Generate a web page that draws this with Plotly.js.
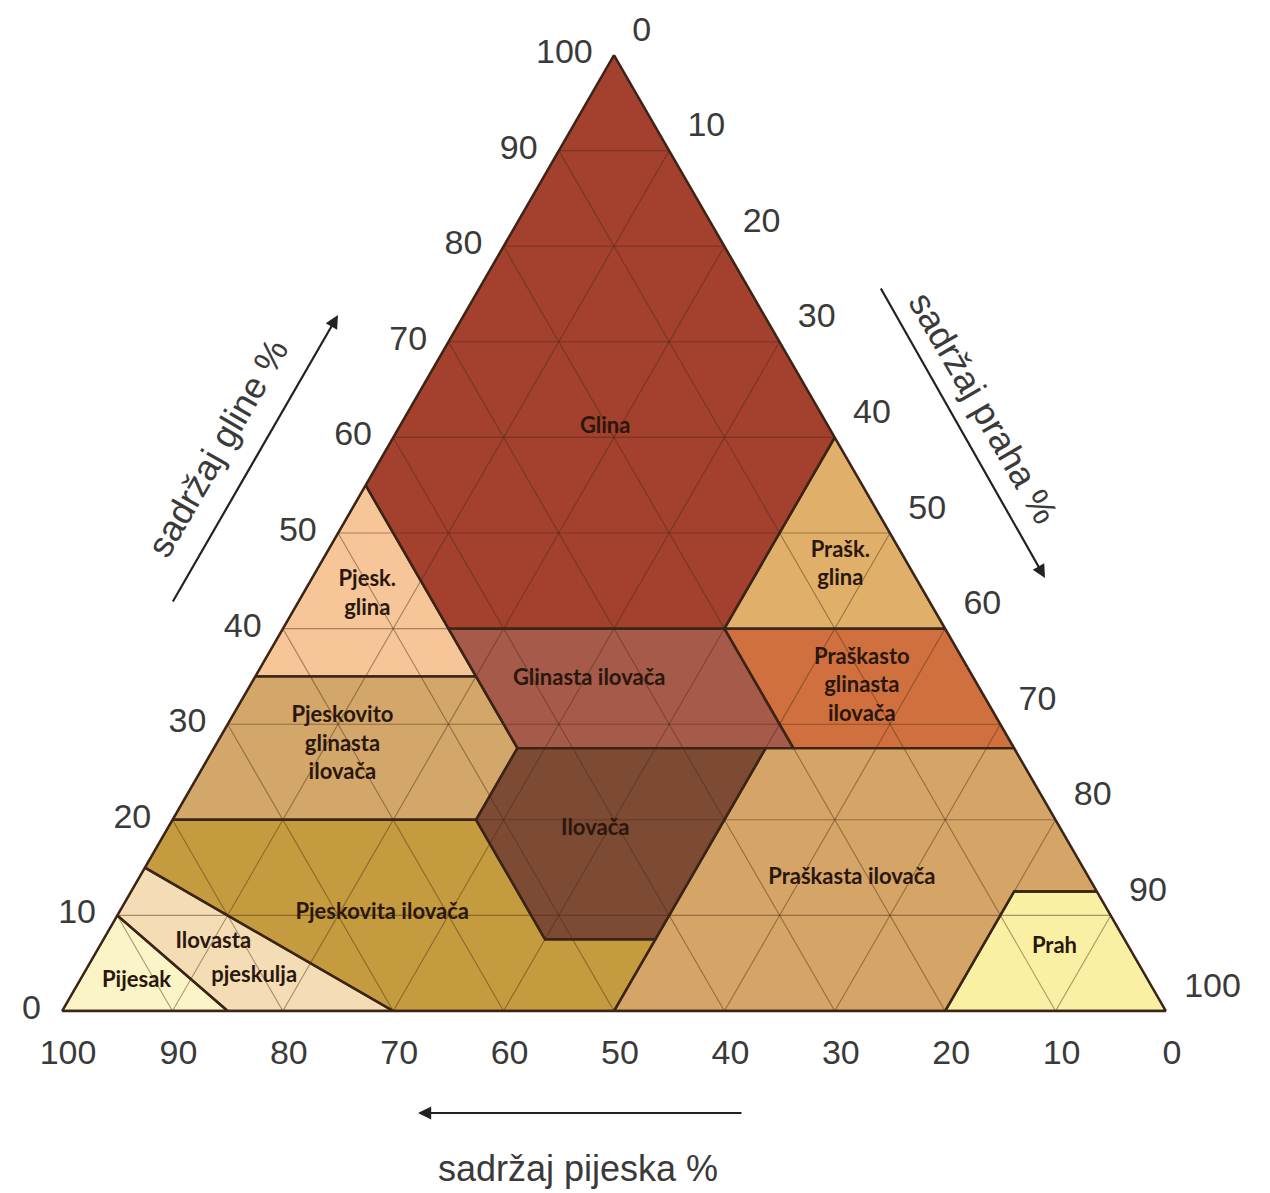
<!DOCTYPE html>
<html>
<head>
<meta charset="utf-8">
<script src="https://cdn.plot.ly/plotly-3.0.1.min.js"></script>
<style>
html,body{margin:0;padding:0;background:#ffffff;}
#chart{width:1270px;height:1193px;}
</style>
</head>
<body>
<div id="chart"></div>
<script>
// ---- DATA: soil texture classes (vertices as clay / silt / sand %) ----
const regionNames = [
  'Glina', 'Pjeskovita glina', 'Praškasta glina', 'Glinasta ilovača',
  'Praškasto glinasta ilovača', 'Pjeskovito glinasta ilovača', 'Ilovača',
  'Praškasta ilovača', 'Pjeskovita ilovača', 'Ilovasta pjeskulja', 'Pijesak', 'Prah'
];
const regionClay = [
  [100, 60, 40, 40, 55],
  [35, 55, 35],
  [60, 40, 40],
  [40, 40, 27.5, 27.5],
  [40, 40, 27.5, 27.5],
  [20, 35, 35, 27.5, 20],
  [27.5, 27.5, 7.5, 7.5, 20],
  [27.5, 27.5, 12.5, 12.5, 0, 0, 7.5],
  [20, 20, 7.5, 7.5, 0, 0, 15],
  [15, 0, 0, 10],
  [10, 0, 0],
  [12.5, 0, 0, 12.5]
];
const regionSilt = [
  [0, 40, 40, 15, 0],
  [0, 0, 20],
  [40, 60, 40],
  [15, 40, 52.5, 27.5],
  [40, 60, 72.5, 52.5],
  [0, 0, 20, 27.5, 27.5],
  [27.5, 50, 50, 40, 27.5],
  [50, 72.5, 87.5, 80, 80, 50, 50],
  [0, 27.5, 40, 50, 50, 30, 0],
  [0, 30, 15, 0],
  [0, 15, 0],
  [87.5, 100, 80, 80]
];
const regionSand = [
  [0, 0, 20, 45, 45],
  [65, 45, 45],
  [0, 0, 20],
  [45, 20, 20, 45],
  [20, 0, 0, 20],
  [80, 65, 45, 45, 52.5],
  [45, 22.5, 42.5, 52.5, 52.5],
  [22.5, 0, 0, 7.5, 20, 50, 42.5],
  [80, 52.5, 52.5, 42.5, 50, 70, 85],
  [85, 70, 85, 90],
  [90, 85, 100],
  [0, 0, 20, 7.5]
];
const regionColors = [
  '#a3402e', '#f6c698', '#e0b06b', '#a65b4a',
  '#d1703f', '#d3a66a', '#7d4a33',
  '#d4a567', '#c49b3e', '#f4dcb4', '#faf4c6', '#f9f0a4'
];

// ---- region labels ----
const labelText = [
  'Glina', 'Pjesk.<br>glina', 'Prašk.<br>glina', 'Glinasta ilovača',
  'Praškasto<br>glinasta<br>ilovača', 'Pjeskovito<br>glinasta<br>ilovača', 'Ilovača',
  'Praškasta ilovača', 'Pjeskovita ilovača', 'Ilovasta', 'pjeskulja', 'Pijesak', 'Prah'
];
const labelClay = [61.0, 43.5, 46.6, 34.7, 33.9, 27.8, 19.0, 13.9, 10.2, 7.2, 3.6, 3.1, 6.6];
const labelSilt = [18.7, 5.9, 47.2, 30.4, 55.5, 11.5, 38.8, 64.6, 23.9, 10.1, 15.6, 5.2, 86.6];
const labelSand = [20.3, 50.6, 6.2, 34.9, 10.6, 60.7, 42.2, 21.5, 65.9, 82.7, 80.8, 91.7, 6.8];

// ---- axes ----
const tickVals = [0, 10, 20, 30, 40, 50, 60, 70, 80, 90, 100];
const axisTitles = ['sadržaj gline %', 'sadržaj praha %', 'sadržaj pijeska %'];

// ---- build traces ----
const traces = [];
regionNames.forEach((name, i) => {
  traces.push({
    type: 'scatterternary',
    mode: 'lines',
    name: name,
    a: regionClay[i].concat([regionClay[i][0]]),
    b: regionSand[i].concat([regionSand[i][0]]),
    c: regionSilt[i].concat([regionSilt[i][0]]),
    fill: 'toself',
    fillcolor: regionColors[i],
    line: {color: 'rgba(0,0,0,0)', width: 0},
    hoverinfo: 'name',
    showlegend: false
  });
});

// grid lines (derived from tick values), drawn above fills
const ga = [], gb = [], gc = [];
tickVals.slice(1, -1).forEach(v => {
  ga.push(v, v, null); gb.push(100 - v, 0, null); gc.push(0, 100 - v, null);
  ga.push(0, 100 - v, null); gb.push(v, v, null); gc.push(100 - v, 0, null);
  ga.push(0, 100 - v, null); gb.push(100 - v, 0, null); gc.push(v, v, null);
});
traces.push({
  type: 'scatterternary', mode: 'lines', a: ga, b: gb, c: gc,
  line: {color: 'rgba(70,42,20,0.45)', width: 1.1},
  hoverinfo: 'skip', showlegend: false, connectgaps: false
});

// region borders
regionNames.forEach((name, i) => {
  traces.push({
    type: 'scatterternary',
    mode: 'lines',
    a: regionClay[i].concat([regionClay[i][0]]),
    b: regionSand[i].concat([regionSand[i][0]]),
    c: regionSilt[i].concat([regionSilt[i][0]]),
    line: {color: '#3c2416', width: 2.4},
    hoverinfo: 'skip',
    showlegend: false
  });
});

// labels
traces.push({
  type: 'scatterternary', mode: 'text',
  a: labelClay, b: labelSand, c: labelSilt,
  text: labelText,
  textposition: 'middle center',
  textfont: {family: 'Lato, "Open Sans", sans-serif', size: 22, color: '#2a170d', weight: 700},
  hoverinfo: 'skip', showlegend: false
});

const tickFont = {family: '"Liberation Sans", Arial, sans-serif', size: 34, color: '#3a3a3a'};
function makeAxis(len) {
  return {
    tickmode: 'array',
    tickvals: tickVals,
    ticktext: tickVals.map(String),
    ticks: 'outside',
    ticklen: len,
    tickcolor: 'rgba(0,0,0,0)',
    tickfont: tickFont,
    showgrid: false,
    showline: true,
    linecolor: '#3c2416',
    linewidth: 2.4,
    title: {text: ''}
  };
}

const titleFont = {family: '"Liberation Sans", Arial, sans-serif', size: 36, color: '#3a3a3a'};

const layout = {
  width: 1270,
  height: 1193,
  margin: {l: 0, r: 0, t: 0, b: 0},
  paper_bgcolor: '#ffffff',
  showlegend: false,
  ternary: {
    sum: 100,
    domain: {x: [62 / 1270, 1166 / 1270], y: [1 - 1011 / 1193, 1 - 55 / 1193]},
    bgcolor: '#ffffff',
    aaxis: makeAxis(16),
    baxis: makeAxis(12),
    caxis: makeAxis(26)
  },
  annotations: [
    {xref: 'paper', yref: 'paper', axref: 'paper', ayref: 'paper',
     x: 338 / 1270, y: 1 - 315 / 1193, ax: 172 / 1270, ay: 1 - 603 / 1193,
     text: '', showarrow: true, arrowhead: 2, arrowsize: 1.2, arrowwidth: 2.2, arrowcolor: '#222222'},
    {xref: 'paper', yref: 'paper', axref: 'paper', ayref: 'paper',
     x: 1045 / 1270, y: 1 - 578 / 1193, ax: 880 / 1270, ay: 1 - 287 / 1193,
     text: '', showarrow: true, arrowhead: 2, arrowsize: 1.2, arrowwidth: 2.2, arrowcolor: '#222222'},
    {xref: 'paper', yref: 'paper', axref: 'paper', ayref: 'paper',
     x: 418 / 1270, y: 1 - 1113 / 1193, ax: 743 / 1270, ay: 1 - 1113 / 1193,
     text: '', showarrow: true, arrowhead: 2, arrowsize: 1.2, arrowwidth: 2.2, arrowcolor: '#222222'},
    {xref: 'paper', yref: 'paper', x: 218 / 1270, y: 1 - 448 / 1193,
     xanchor: 'center', yanchor: 'middle',
     text: axisTitles[0], showarrow: false, textangle: -60, font: titleFont},
    {xref: 'paper', yref: 'paper', x: 983 / 1270, y: 1 - 408 / 1193,
     xanchor: 'center', yanchor: 'middle',
     text: axisTitles[1], showarrow: false, textangle: 60, font: titleFont},
    {xref: 'paper', yref: 'paper', x: 578 / 1270, y: 1 - 1168 / 1193,
     xanchor: 'center', yanchor: 'middle',
     text: axisTitles[2], showarrow: false, font: titleFont}
  ]
};

Plotly.newPlot('chart', traces, layout, {displayModeBar: false, staticPlot: true});
</script>
</body>
</html>
